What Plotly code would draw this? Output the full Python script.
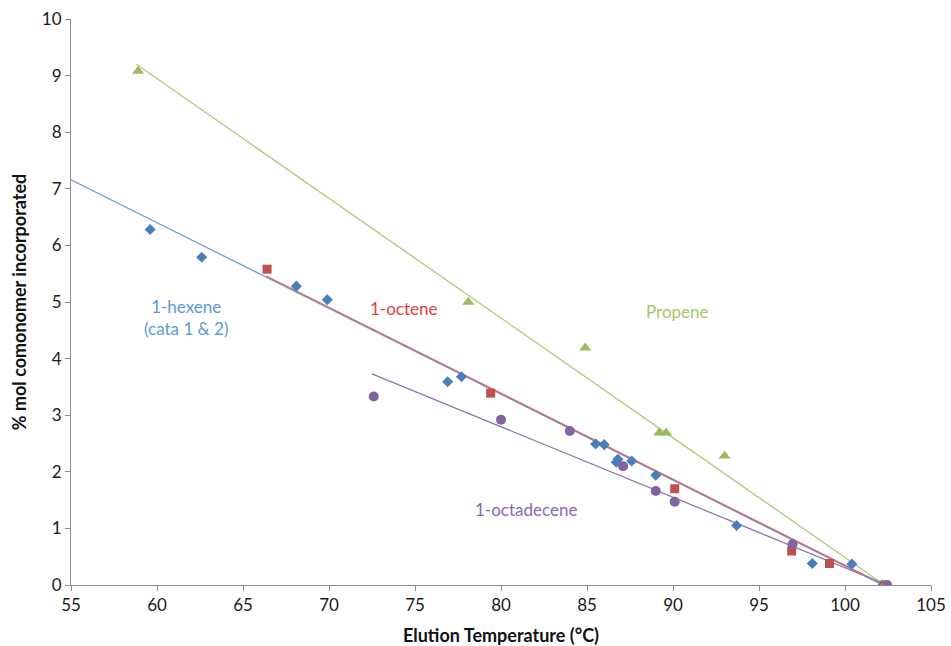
import plotly.graph_objects as go

# Elution temperature (°C) vs. comonomer content (% mol)
hexene_t = [59.6, 62.6, 68.1, 69.9, 76.9, 77.7, 85.5, 86.0, 86.7, 86.8, 87.6, 89.0, 93.7, 98.1, 100.4, 102.2]
hexene_c = [6.28, 5.79, 5.28, 5.04, 3.59, 3.68, 2.49, 2.48, 2.17, 2.22, 2.19, 1.94, 1.05, 0.38, 0.37, 0.0]

octene_t = [66.4, 79.4, 90.1, 96.9, 99.1, 102.3]
octene_c = [5.58, 3.39, 1.70, 0.60, 0.38, 0.0]

propene_t = [58.9, 78.1, 84.9, 89.2, 89.6, 93.0, 102.3]
propene_c = [9.08, 5.0, 4.19, 2.69, 2.69, 2.28, 0.0]

octadecene_t = [72.6, 80.0, 84.0, 87.1, 89.0, 90.1, 96.95, 102.45]
octadecene_c = [3.33, 2.92, 2.72, 2.10, 1.66, 1.47, 0.72, 0.0]

# Linear trend lines (end points)
hexene_fit_t = [55.0, 102.2]
hexene_fit_c = [7.16, 0.0]
octene_fit_t = [66.35, 102.3]
octene_fit_c = [5.46, 0.0]
propene_fit_t = [58.8, 102.3]
propene_fit_c = [9.20, 0.0]
octadecene_fit_t = [72.5, 102.45]
octadecene_fit_c = [3.73, 0.0]

x_ticks = [55, 60, 65, 70, 75, 80, 85, 90, 95, 100, 105]
y_ticks = list(range(0, 11))

BLUE = "#4A7EBB"
RED = "#C0504D"
GREEN = "#9BBB59"
PURPLE = "#8064A2"

FONT = "Lato, 'Open Sans', sans-serif"

fig = go.Figure()

fits = [
    (hexene_fit_t, hexene_fit_c, "#6E9FD6"),
    (octene_fit_t, octene_fit_c, "#D9605E"),
    (propene_fit_t, propene_fit_c, "#AFC97A"),
    (octadecene_fit_t, octadecene_fit_c, "#9079B0"),
]
for xs, ys, col in fits:
    fig.add_trace(go.Scatter(x=xs, y=ys, mode="lines",
                             line=dict(color=col, width=1.3),
                             showlegend=False, hoverinfo="skip"))

series = [
    (hexene_t, hexene_c, BLUE, "diamond", 8.5),
    (octene_t, octene_c, RED, "square", 9),
    (propene_t, propene_c, GREEN, "triangle-up", 10.5),
    (octadecene_t, octadecene_c, PURPLE, "circle", 10),
]
for xs, ys, col, sym, sz in series:
    fig.add_trace(go.Scatter(x=xs, y=ys, mode="markers",
                             marker=dict(color=col, symbol=sym, size=sz,
                                         line=dict(width=0)),
                             showlegend=False))

labels = [
    (61.7, 4.73, "1-hexene<br>(cata 1 & 2)", "#5B9BD5"),
    (74.35, 4.88, "1-octene", "#E0403F"),
    (90.25, 4.84, "Propene", "#A4C866"),
    (81.45, 1.34, "1-octadecene", "#8A66B8"),
]
for x, y, txt, col in labels:
    fig.add_annotation(x=x, y=y, text=txt, showarrow=False,
                       font=dict(family=FONT, size=17, color=col),
                       xanchor="center", yanchor="middle", align="center")

axis_common = dict(
    showgrid=False, zeroline=False, showline=True, automargin=False,
    linecolor="#8C8C8C", linewidth=1,
    ticks="outside", ticklen=5, tickcolor="#8C8C8C", tickwidth=1,
    tickfont=dict(family=FONT, size=17, color="#1A1A1A"),
)

fig.update_xaxes(range=[55, 105], tickvals=x_ticks,
                 title=dict(text="<b>Elution Temperature (°C)</b>",
                            font=dict(family=FONT, size=18, color="#111"),
                            standoff=18),
                 **axis_common)
fig.update_yaxes(range=[0, 10], tickvals=y_ticks,
                 title=dict(text="<b>% mol comonomer incorporated</b>",
                            font=dict(family=FONT, size=18, color="#111"),
                            standoff=10),
                 **axis_common)

fig.update_layout(
    width=951, height=646,
    margin=dict(l=71, r=20, t=19, b=61),
    plot_bgcolor="white", paper_bgcolor="white",
    showlegend=False,
)

fig.write_html("out.html")
